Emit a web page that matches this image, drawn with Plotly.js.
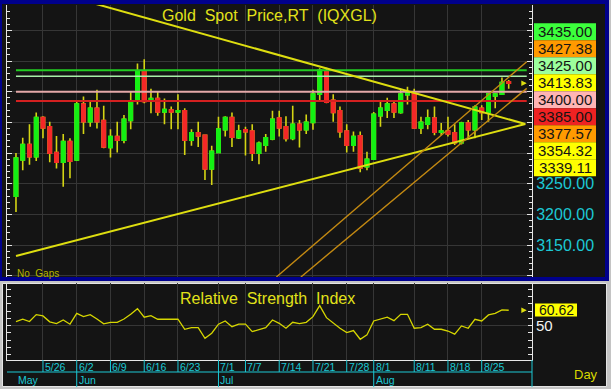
<!DOCTYPE html>
<html><head><meta charset="utf-8">
<script src="https://cdn.plot.ly/plotly-3.0.1.min.js"></script>
<style>html,body{margin:0;padding:0;background:#c4c4c4;}#chart{width:611px;height:389px;}</style>
</head><body><div id="chart"></div>
<script>
// ---------------- DATA ----------------
const dates = ['5/20','5/21','5/22','5/23','5/26','5/27','5/28','5/29','5/30','6/2','6/3','6/4','6/5','6/6','6/9','6/10','6/11','6/12','6/13','6/16','6/17','6/18','6/19','6/20','6/23','6/24','6/25','6/26','6/27','6/30','7/1','7/2','7/3','7/4','7/7','7/8','7/9','7/10','7/11','7/14','7/15','7/16','7/17','7/18','7/21','7/22','7/23','7/24','7/25','7/28','7/29','7/30','7/31','8/1','8/4','8/5','8/6','8/7','8/8','8/11','8/12','8/13','8/14','8/15','8/18','8/19','8/20','8/21','8/22','8/25','8/26','8/27','8/28','8/29'];
const open  = [3230,3289,3314,3294,3358,3343,3301,3285,3319,3289,3380,3351,3373,3353,3309,3327,3321,3353,3385,3433,3385,3389,3367,3370,3367,3369,3321,3333,3329,3274,3301,3338,3358,3325,3338,3336,3300,3313,3323,3357,3343,3324,3347,3338,3350,3396,3433,3386,3369,3336,3313,3328,3278,3290,3361,3370,3380,3366,3395,3397,3341,3347,3357,3334,3336,3333,3317,3349,3338,3373,3366,3393,3396,3416];
const high  = [3300,3325,3347,3366,3360,3351,3328,3331,3324,3384,3392,3384,3403,3377,3339,3351,3362,3400,3446,3453,3405,3400,3389,3376,3396,3373,3339,3351,3330,3312,3359,3360,3366,3346,3343,3347,3319,3331,3369,3369,3360,3377,3354,3363,3403,3438,3439,3396,3376,3347,3335,3335,3302,3367,3386,3390,3384,3404,3408,3405,3359,3371,3376,3349,3359,3347,3351,3354,3378,3378,3398,3398,3423,3419];
const low   = [3204,3272,3281,3287,3324,3285,3275,3245,3259,3287,3331,3343,3340,3308,3293,3301,3316,3339,3379,3381,3365,3361,3347,3339,3339,3297,3312,3310,3256,3248,3300,3327,3310,3323,3296,3287,3282,3302,3321,3327,3319,3321,3309,3331,3338,3386,3381,3351,3325,3301,3302,3269,3272,3289,3343,3357,3357,3364,3379,3340,3331,3339,3329,3329,3327,3313,3314,3324,3324,3354,3351,3373,3395,3405];
const close = [3292,3314,3294,3358,3341,3300,3285,3319,3287,3380,3351,3373,3351,3310,3327,3321,3355,3385,3434,3384,3389,3367,3371,3367,3369,3321,3333,3328,3274,3303,3339,3358,3326,3336,3335,3300,3316,3325,3355,3341,3324,3347,3338,3350,3396,3435,3383,3366,3335,3313,3327,3276,3290,3363,3373,3380,3367,3396,3398,3341,3350,3357,3334,3336,3331,3317,3349,3338,3375,3366,3396,3396,3415,3413.83];
const rsi = [52.8,54.4,52.8,57.6,56.7,52.6,51.4,53.9,51.0,58.5,56.2,57.6,54.6,51.2,52.3,52.3,54.6,57.8,61.7,55.8,56.9,54.4,54.4,54.4,54.4,47.5,48.6,48.6,41.3,44.8,51.0,53.2,49.3,51.0,51.0,45.9,47.5,48.6,53.9,51.6,48.2,52.3,51.4,52.3,56.2,63.8,55.5,51.6,48.2,45.2,46.6,40.6,43.6,53.2,54.4,55.8,53.4,57.8,57.8,48.2,48.6,51.0,47.5,47.5,46.3,44.1,49.8,48.2,54.4,53.2,57.4,58.5,60.8,60.62];

const tickDates = ['5/26','6/2','6/9','6/16','6/23','7/1','7/7','7/14','7/21','7/28','8/1','8/11','8/18','8/25'];
const monthLabels = ['May','Jun','Jul','Aug'];
const monthStarts = ['5/20','6/2','7/1','8/1'];

const priceTickVals = [3100,3150,3200,3250,3300,3350,3400,3450,3500];
const priceTickText = ['','3150.00','3200.00','3250.00','','','','',''];

const levelLines = [3435, 3425, 3400, 3385];
const levelLabels = ['3435.00','3427.38','3425.00','3413.83','3400.00','3385.00','3377.57','3354.32','3339.11'];
const lastPrice = 3413.83;
const lastRsi = 60.62;

// trend lines: [startIndex, startPrice, endIndex, endPrice]
const trendStartIdx   = [5, 0, 38.58, 42.21];
const trendStartPrice = [3563.9, 3132.4, 3098.2, 3098.2];
const trendEndIdx     = [75.46, 75.46, 75.67, 75.67];
const trendEndPrice   = [3347.4, 3347.4, 3448.9, 3405.4];
const levelLineEnd = 75.67;

// ---------------- STYLE / LAYOUT ----------------
const W = 611, H = 389;
const px = v => v / W, py = v => 1 - v / H;
const FONT = 'Liberation Sans, Arial, sans-serif';
const DARK = '#141414';
const GRID = '#363636';
const AXL = '#e6e6e6';
const CYAN = '#1cc8d4';
const YEL = '#dede10';
const GREEN = '#14f014';
const RED = '#f42828';
const WICK = '#d4d414';

const levelLineColors = ['#22cc22', '#a8f0a8', '#e4a8a8', '#d42020'];
const levelBoxColors = ['#3cff3c','#ff9a00','#9cff9c','#ffff00','#ffb4b4','#ee2222','#ff9a00','#ffff00','#ffff00'];
const BOX_TOP = 23.3, BOX_H = 17;
const trendColors = [YEL, YEL, '#c48a12', '#c48a12'];
const trendWidths = [2, 2, 1.4, 1.4];

const bodyHigh = open.map((o, i) => Math.max(o, close[i]));
const bodyLow = open.map((o, i) => Math.min(o, close[i]));

const traces = [
  { type: 'candlestick', x: dates, open: open, high: high, low: low, close: close,
    xaxis: 'x', yaxis: 'y', whiskerwidth: 0, hoverinfo: 'skip',
    increasing: { line: { color: WICK, width: 1.6 }, fillcolor: GREEN },
    decreasing: { line: { color: WICK, width: 1.6 }, fillcolor: RED } },
  { type: 'candlestick', x: dates, open: open, high: bodyHigh, low: bodyLow, close: close,
    xaxis: 'x', yaxis: 'y', whiskerwidth: 0, hoverinfo: 'skip',
    increasing: { line: { color: GREEN, width: 1.6 }, fillcolor: GREEN },
    decreasing: { line: { color: RED, width: 1.6 }, fillcolor: RED } },
  { type: 'scatter', mode: 'lines', x: dates, y: rsi, xaxis: 'x', yaxis: 'y2',
    line: { color: '#d6d600', width: 1.3 }, hoverinfo: 'skip' }
];

function rect(x0, y0, x1, y1, fill, layer, lineColor, lineWidth) {
  return { type: 'rect', xref: 'paper', yref: 'paper', x0: px(x0), x1: px(x1), y0: py(y1), y1: py(y0),
    fillcolor: fill, line: { width: lineWidth || 0, color: lineColor || fill }, layer: layer || 'below' };
}
function lineP(x0, y0, x1, y1, color, w) {
  return { type: 'line', xref: 'paper', yref: 'paper', x0: px(x0), x1: px(x1), y0: py(y0), y1: py(y1),
    line: { color: color, width: w || 1 }, layer: 'above' };
}

const shapes = [];
shapes.push(rect(0, 0, 609, 281, '#00008c'));
shapes.push(rect(2, 4, 605, 277, DARK));
shapes.push(rect(2.5, 283.5, 606.5, 386.5, DARK, 'below', '#e4e4e4', 1));
levelLines.forEach((v, i) => shapes.push({ type: 'line', xref: 'x', yref: 'y', x0: 0, x1: levelLineEnd, y0: v, y1: v,
  line: { color: levelLineColors[i], width: i === 1 ? 1.5 : 2 }, layer: 'above' }));
trendStartIdx.forEach((s, i) => shapes.push({ type: 'line', xref: 'x', yref: 'y', x0: s, y0: trendStartPrice[i],
  x1: trendEndIdx[i], y1: trendEndPrice[i], line: { color: trendColors[i], width: trendWidths[i] }, layer: 'above' }));
levelLabels.forEach((t, i) => shapes.push(rect(534, BOX_TOP + i * BOX_H, 596, BOX_TOP + (i + 1) * BOX_H, levelBoxColors[i], 'above')));
shapes.push(rect(535, 303.5, 577, 316.5, '#ffff00', 'above'));
shapes.push(lineP(7, 372, 532, 372, CYAN, 1));
shapes.push(lineP(532, 360, 532, 387, CYAN, 1));
tickDates.forEach(d => {
  const full = monthStarts.indexOf(d) >= 0;
  shapes.push({ type: 'line', xref: 'x', yref: 'paper', x0: dates.indexOf(d), x1: dates.indexOf(d),
    y0: py(360), y1: py(full ? 387 : 372), line: { color: CYAN, width: 1 }, layer: 'above' });
});

const annotations = [];
annotations.push({ xref: 'paper', yref: 'paper', x: px(269), y: py(15), text: 'Gold\u00a0 Spot\u00a0 Price,RT\u00a0 (IQXGL)',
  showarrow: false, font: { family: FONT, size: 16, color: '#e2e21a' }, xanchor: 'center', yanchor: 'middle' });
annotations.push({ xref: 'paper', yref: 'paper', x: px(267), y: py(298), text: 'Relative\u00a0 Strength\u00a0 Index',
  showarrow: false, font: { family: FONT, size: 16, color: '#e2e21a' }, xanchor: 'center', yanchor: 'middle' });
annotations.push({ xref: 'paper', yref: 'paper', x: px(15), y: py(273), text: 'No\u00a0 Gaps',
  showarrow: false, font: { family: FONT, size: 10, color: '#b4b400' }, xanchor: 'left', yanchor: 'middle' });
annotations.push({ xref: 'paper', yref: 'paper', x: px(586), y: py(374), text: 'Day',
  showarrow: false, font: { family: FONT, size: 13, color: '#d8d800' }, xanchor: 'center', yanchor: 'middle' });
levelLabels.forEach((t, i) => annotations.push({ xref: 'paper', yref: 'paper', x: px(565), y: py(BOX_TOP + (i + 0.5) * BOX_H),
  text: t, showarrow: false, borderpad: 0, font: { family: FONT, size: 15, color: '#141414' }, xanchor: 'center', yanchor: 'middle' }));
annotations.push({ xref: 'paper', yref: 'paper', x: px(556), y: py(309.5), text: String(lastRsi), showarrow: false, borderpad: 0,
  font: { family: FONT, size: 14, color: '#141414' }, xanchor: 'center', yanchor: 'middle' });
annotations.push({ xref: 'x', yref: 'y', x: 75.67, y: lastPrice, text: '', showarrow: true, ax: -6, ay: 0,
  arrowhead: 2, arrowsize: 0.9, arrowwidth: 1.2, arrowcolor: YEL });
annotations.push({ xref: 'x', yref: 'y2', x: 75.67, y: lastRsi, text: '', showarrow: true, ax: -6, ay: 0,
  arrowhead: 2, arrowsize: 0.9, arrowwidth: 1.2, arrowcolor: YEL });
tickDates.forEach(d => annotations.push({ xref: 'x', yref: 'paper', x: dates.indexOf(d), y: py(366.5), text: d,
  showarrow: false, xanchor: 'left', yanchor: 'middle', xshift: 0, font: { family: FONT, size: 10.5, color: CYAN } }));
monthLabels.forEach((m, i) => annotations.push({ xref: 'x', yref: 'paper', x: dates.indexOf(monthStarts[i]), y: py(379.5), text: m,
  showarrow: false, xanchor: 'left', yanchor: 'middle', xshift: 0, font: { family: FONT, size: 10.5, color: CYAN } }));

const layout = {
  width: W, height: H, autosize: false, showlegend: false,
  margin: { l: 0, r: 0, t: 0, b: 0, pad: 0 },
  paper_bgcolor: '#c4c4c4', plot_bgcolor: DARK,
  font: { family: FONT },
  boxgap: 0.3,
  xaxis: { domain: [px(7), px(532)], anchor: 'y2', type: 'category', range: [-1.33, 76.45],
    tickmode: 'array', tickvals: tickDates, showticklabels: false, ticks: '',
    showgrid: true, gridcolor: GRID, gridwidth: 1, showline: true, linecolor: AXL, linewidth: 1,
    zeroline: false, rangeslider: { visible: false }, fixedrange: true },
  yaxis: { domain: [1 - 277 / H, 1 - 5 / H], anchor: 'x', range: [3098.2, 3541.2], side: 'right',
    tickmode: 'array', tickvals: priceTickVals, ticktext: priceTickText,
    tickfont: { family: FONT, size: 16, color: CYAN },
    ticks: 'inside', ticklen: 5, tickcolor: AXL, tickwidth: 1,
    minor: { dtick: 10, tick0: 0, ticks: 'inside', ticklen: 3, tickcolor: AXL, showgrid: false },
    showline: true, linecolor: AXL, linewidth: 1, mirror: 'ticks',
    showgrid: true, gridcolor: GRID, zeroline: false, fixedrange: true },
  yaxis2: { domain: [1 - 360 / H, 1 - 283 / H], anchor: 'x', range: [26.3, 79.4], side: 'right',
    tickmode: 'array', tickvals: [50], ticktext: ['50'],
    tickfont: { family: FONT, size: 15, color: '#f2f2f2' },
    ticks: 'inside', ticklen: 4, tickcolor: AXL,
    minor: { dtick: 5, tick0: 0, ticks: 'inside', ticklen: 4, tickcolor: AXL, showgrid: false },
    showline: true, linecolor: AXL, linewidth: 1, mirror: 'ticks',
    showgrid: true, gridcolor: GRID, zeroline: false, fixedrange: true },
  shapes: shapes,
  annotations: annotations
};

Plotly.newPlot('chart', traces, layout, { staticPlot: true, displayModeBar: false });
</script>
</body></html>
